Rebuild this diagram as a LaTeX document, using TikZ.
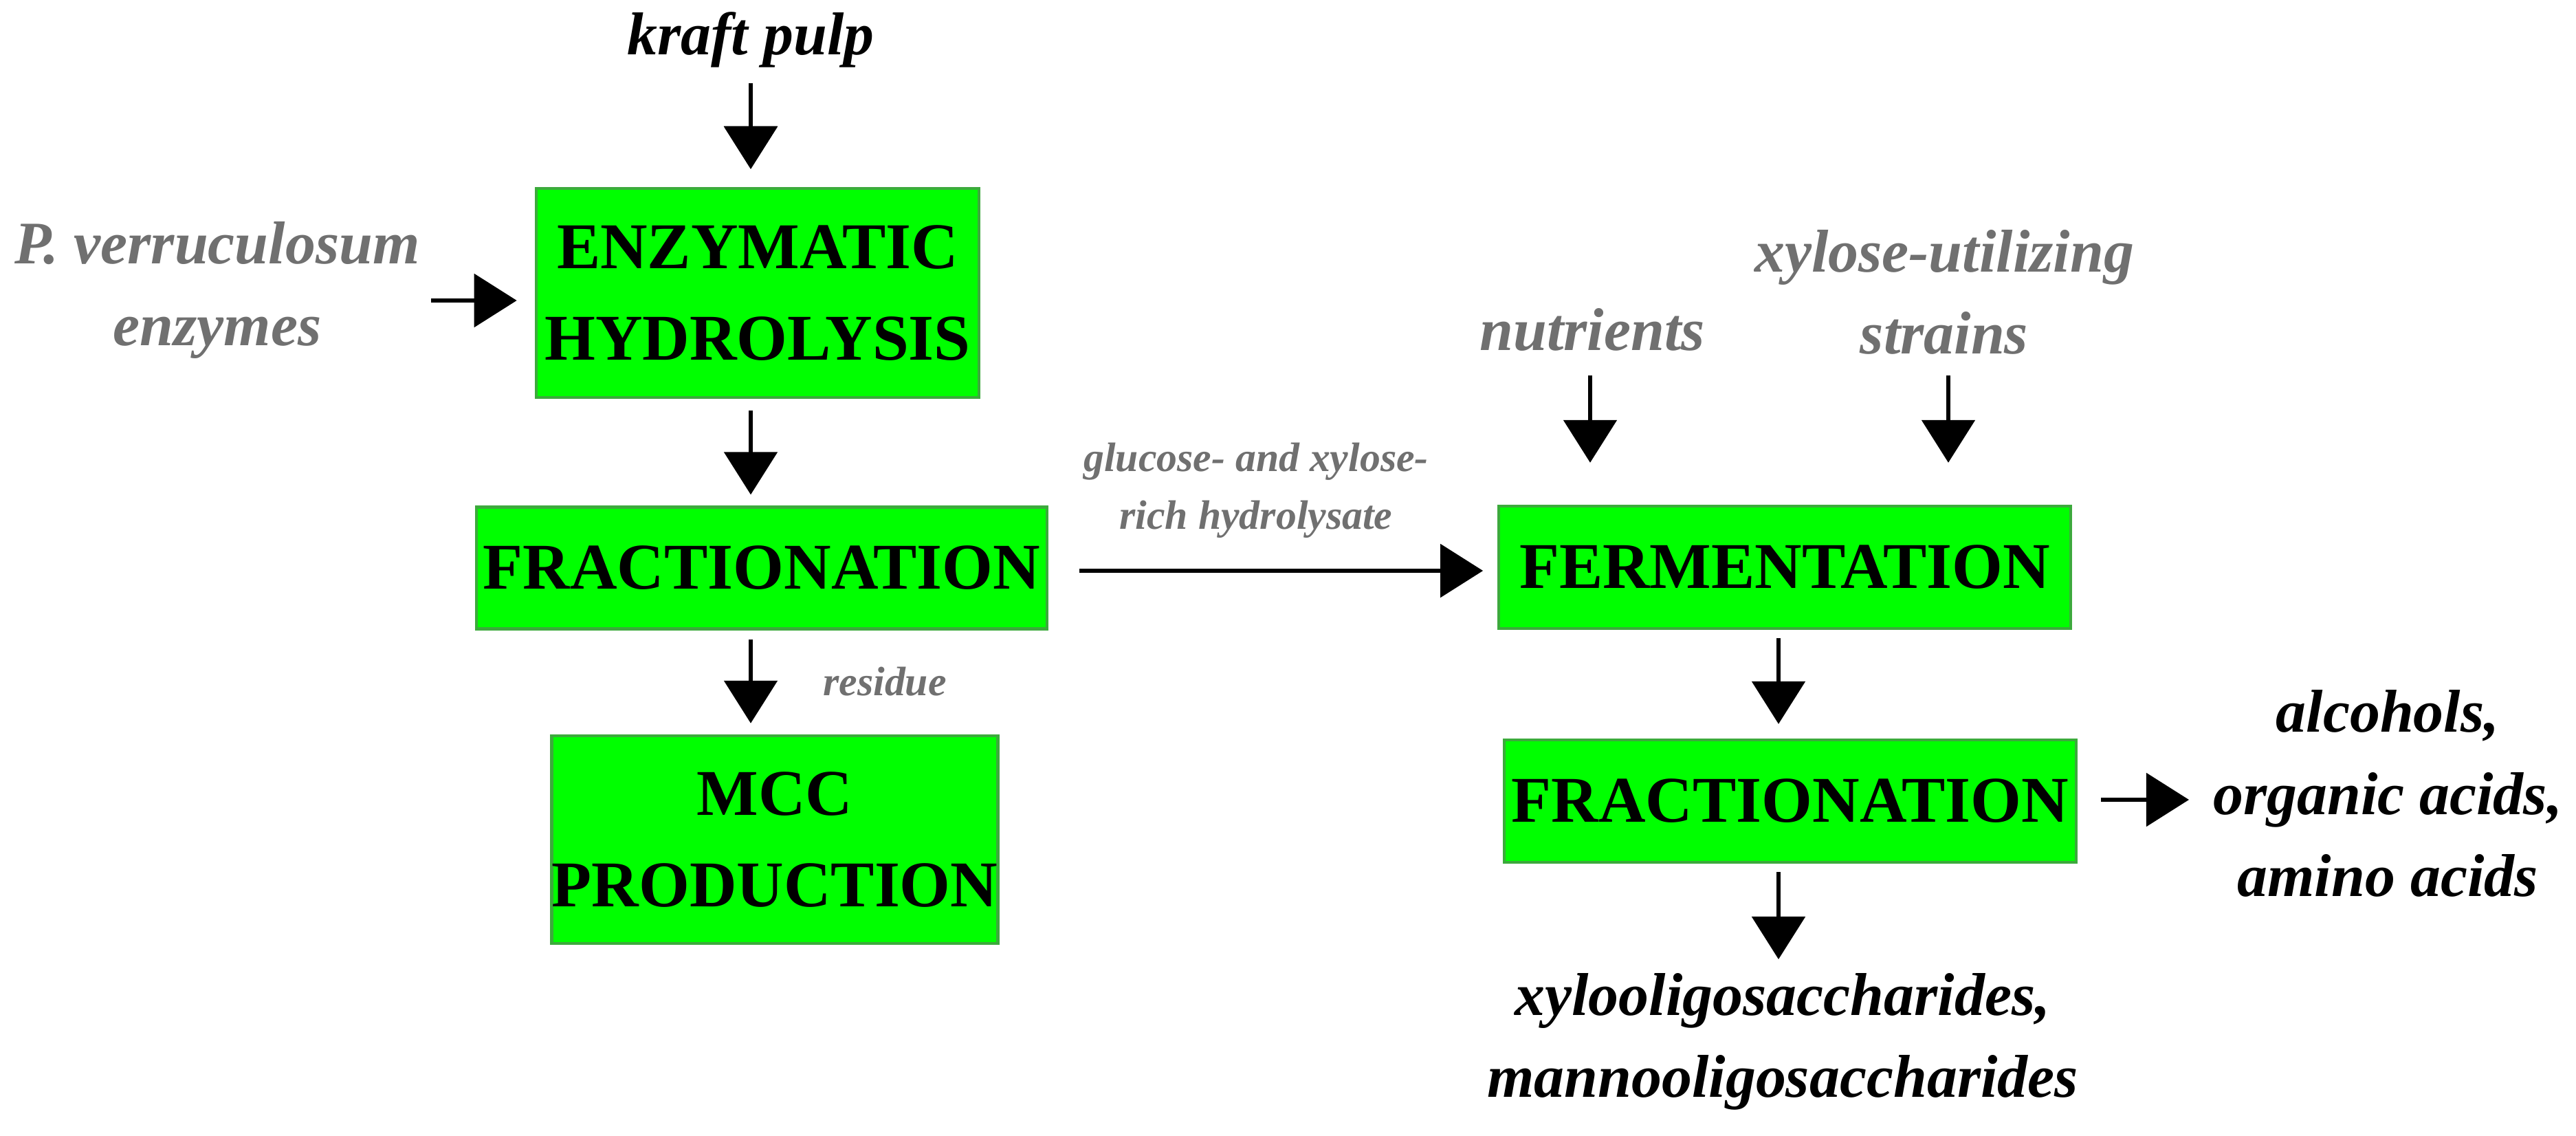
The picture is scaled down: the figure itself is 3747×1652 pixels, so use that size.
\documentclass[tikz,border=0pt]{standalone}
\usepackage{fontspec}
\setmainfont{Liberation Serif}
\usetikzlibrary{arrows.meta}
\definecolor{boxgreen}{RGB}{0,255,0}
\definecolor{boxedge}{RGB}{60,170,60}
\definecolor{lblgray}{RGB}{112,112,112}
\begin{document}
\begin{tikzpicture}[x=0.01cm,y=-0.01cm,
  box/.style={draw=boxedge,line width=1.2pt,fill=boxgreen,align=center,inner sep=0pt,
    font=\fontsize{27}{38}\selectfont\bfseries},
  lbl/.style={align=center,inner sep=0pt,font=\fontsize{25}{34}\selectfont\itshape\bfseries},
  glbl/.style={lbl,text=lblgray},
  small/.style={align=center,inner sep=0pt,text=lblgray,font=\fontsize{17}{24}\selectfont\itshape\bfseries},
  arr/.style={line width=1.6pt,-{Triangle[width=0.77cm,length=0.62cm]}}]
\useasboundingbox[fill=white] (0,0) rectangle (3747,1652);
% boxes
\node[box,minimum width=6.44cm,minimum height=3.04cm] (enz) at (1102,426) {ENZYMATIC\\HYDROLYSIS};
\node[box,minimum width=8.29cm,minimum height=1.77cm] (fracL) at (1108,826) {FRACTIONATION};
\node[box,minimum width=6.44cm,minimum height=3.02cm] (mcc) at (1127,1221) {MCC\\PRODUCTION};
\node[box,minimum width=8.31cm,minimum height=1.78cm] (ferm) at (2596,825) {FERMENTATION};
\node[box,minimum width=8.31cm,minimum height=1.78cm] (fracR) at (2604,1165) {FRACTIONATION};
% labels
\node[lbl] (kraft) at (1092,58) {kraft pulp};
\node[glbl] (pv) at (316,422) {P. verruculosum\\enzymes};
\node[glbl] (nut) at (2316,480) {nutrients};
\node[glbl] (xyl) at (2828,425) {xylose-utilizing\\strains};
\node[small] (gluc) at (1827,713) {glucose- and xylose-\\rich hydrolysate};
\node[small] (res) at (1287,991) {residue};
\node[lbl] (xo) at (2593,1515) {xylooligosaccharides,\\mannooligosaccharides};
\node[lbl] (alc) at (3473,1154) {alcohols,\\organic acids,\\amino acids};
% connector start points
\coordinate (k0) at (1092,121);
\coordinate (p0) at (627,437);
\coordinate (n0) at (2313,546);
\coordinate (x0) at (2834,546);
\coordinate (h0) at (1568,830);
\coordinate (r1) at (3184,1163);
\coordinate (b1) at (2587,1395);
% arrows
\draw[arr] (k0) -- (enz.north -| k0) [shorten >=0.26cm];
\draw[arr,shorten >=0.26cm] (k0) -- (enz.north -| k0);
\draw[arr,shorten >=0.26cm] (p0) -- (enz.west |- p0);
\draw[arr,shorten <=0.17cm,shorten >=0.16cm] (enz.south -| k0) -- (fracL.north -| k0);
\draw[arr,shorten <=0.13cm,shorten >=0.16cm] (fracL.south -| k0) -- (mcc.north -| k0);
\draw[arr,shorten <=0.45cm,shorten >=0.21cm] (fracL.east |- h0) -- (ferm.west |- h0);
\draw[arr,shorten >=0.61cm] (n0) -- (ferm.north -| n0);
\draw[arr,shorten >=0.61cm] (x0) -- (ferm.north -| x0);
\draw[arr,shorten <=0.12cm,shorten >=0.21cm] (ferm.south -| b1) -- (fracR.north -| b1);
\draw[arr,shorten <=0.34cm] (fracR.east |- r1) -- (r1);
\draw[arr,shorten <=0.12cm] (fracR.south -| b1) -- (b1);
\end{tikzpicture}
\end{document}
